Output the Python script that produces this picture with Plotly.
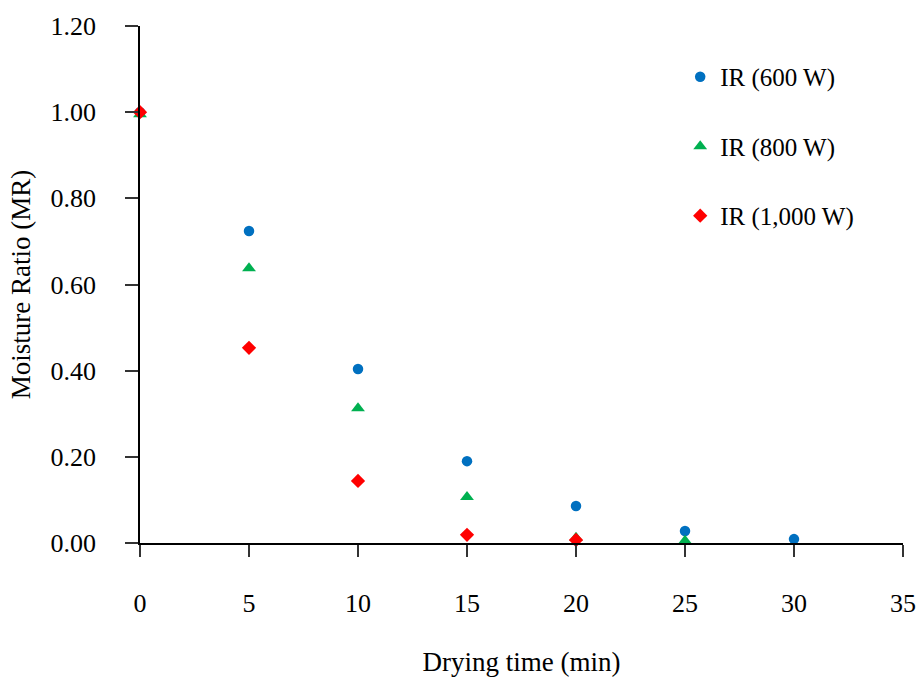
import plotly.graph_objects as go

time_min = [0, 5, 10, 15, 20, 25, 30]
mr_600 = [1.000, 0.724, 0.404, 0.190, 0.086, 0.028, 0.009]
time_800 = [0, 5, 10, 15, 20, 25]
mr_800 = [0.995, 0.638, 0.313, 0.107, 0.012, 0.005]
time_1000 = [0, 5, 10, 15, 20]
mr_1000 = [1.000, 0.453, 0.144, 0.019, 0.007]

x_ticks = [0, 5, 10, 15, 20, 25, 30, 35]
y_ticks = [0, 0.2, 0.4, 0.6, 0.8, 1.0, 1.2]
y_tick_labels = ["0.00", "0.20", "0.40", "0.60", "0.80", "1.00", "1.20"]

FONT = "'Liberation Serif', 'Times New Roman', Times, serif"

fig = go.Figure()
fig.add_trace(go.Scatter(x=time_min, y=mr_600, mode="markers", name="IR (600 W)",
                         legendgroup="a",
                         marker=dict(symbol="circle", size=10.5, color="#0070C0"),
                         cliponaxis=False))
fig.add_trace(go.Scatter(x=time_800, y=mr_800, mode="markers", name="IR (800 W)",
                         legendgroup="b",
                         marker=dict(symbol="triangle-up", size=12, color="#00B050"),
                         cliponaxis=False))
fig.add_trace(go.Scatter(x=time_1000, y=mr_1000, mode="markers", name="IR (1,000 W)",
                         legendgroup="c",
                         marker=dict(symbol="diamond", size=11, color="#FF0000"),
                         cliponaxis=False))

fig.update_layout(
    width=917, height=678,
    margin=dict(l=140, r=14, t=26, b=135),
    plot_bgcolor="white", paper_bgcolor="white",
    font=dict(family=FONT, size=26, color="black"),
    showlegend=True,
    legend=dict(x=0.708, y=0.946, xanchor="left", yanchor="top",
                font=dict(family=FONT, size=25, color="black"),
                tracegroupgap=34, traceorder="grouped",
                bgcolor="rgba(0,0,0,0)", itemwidth=30),
    xaxis=dict(range=[0, 35], tickvals=x_ticks, showgrid=False, zeroline=False,
               automargin=False,
               showline=True, linecolor="black", linewidth=1.5,
               ticks="outside", ticklen=12, tickcolor="#333", tickwidth=1.5,
               ticklabelstandoff=24,
               tickfont=dict(family=FONT, size=26),
               title=dict(text="Drying time (min)", standoff=35,
                          font=dict(family=FONT, size=27))),
    yaxis=dict(range=[0, 1.2], tickvals=y_ticks, ticktext=y_tick_labels,
               showgrid=False, zeroline=False,
               automargin=False,
               showline=True, linecolor="black", linewidth=1.5,
               ticks="outside", ticklen=13, tickcolor="#333", tickwidth=1.5,
               ticklabelstandoff=24,
               tickfont=dict(family=FONT, size=26),
               title=dict(text="Moisture Ratio (MR)", standoff=12,
                          font=dict(family=FONT, size=27))),
)

fig.write_html("out.html")
